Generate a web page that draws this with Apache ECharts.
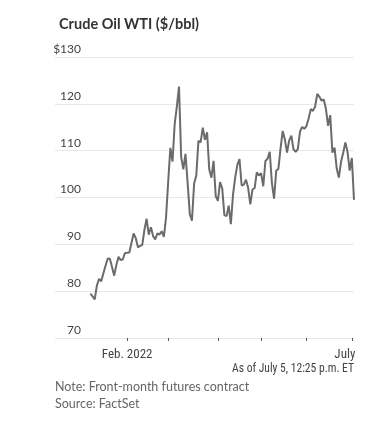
<!DOCTYPE html>
<html>
<head>
<meta charset="utf-8">
<script src="https://cdn.jsdelivr.net/npm/echarts@6/dist/echarts.min.js"></script>
<style>html,body{margin:0;padding:0;background:#fff}#c{width:384px;height:428px}</style>
</head>
<body>
<div id="c"></div>
<script>
// Trading days (Jan 6 - Jul 5, 2022) and WTI front-month prices
var dates = [
 '2022-01-06','2022-01-07','2022-01-10','2022-01-11','2022-01-12','2022-01-13','2022-01-14','2022-01-18','2022-01-19','2022-01-20','2022-01-21','2022-01-24','2022-01-25','2022-01-26','2022-01-27','2022-01-28','2022-01-31',
 '2022-02-01','2022-02-02','2022-02-03','2022-02-04','2022-02-07','2022-02-08','2022-02-09','2022-02-10','2022-02-11','2022-02-14','2022-02-15','2022-02-16','2022-02-17','2022-02-18','2022-02-22','2022-02-23','2022-02-24','2022-02-25','2022-02-28',
 '2022-03-01','2022-03-02','2022-03-03','2022-03-04','2022-03-07','2022-03-08','2022-03-09','2022-03-10','2022-03-11','2022-03-14','2022-03-15','2022-03-16','2022-03-17','2022-03-18','2022-03-21','2022-03-22','2022-03-23','2022-03-24','2022-03-25','2022-03-28','2022-03-29','2022-03-30','2022-03-31',
 '2022-04-01','2022-04-04','2022-04-05','2022-04-06','2022-04-07','2022-04-08','2022-04-11','2022-04-12','2022-04-13','2022-04-14','2022-04-18','2022-04-19','2022-04-20','2022-04-21','2022-04-22','2022-04-25','2022-04-26','2022-04-27','2022-04-28','2022-04-29',
 '2022-05-02','2022-05-03','2022-05-04','2022-05-05','2022-05-06','2022-05-09','2022-05-10','2022-05-11','2022-05-12','2022-05-13','2022-05-16','2022-05-17','2022-05-18','2022-05-19','2022-05-20','2022-05-23','2022-05-24','2022-05-25','2022-05-26','2022-05-27','2022-05-31',
 '2022-06-01','2022-06-02','2022-06-03','2022-06-06','2022-06-07','2022-06-08','2022-06-09','2022-06-10','2022-06-13','2022-06-14','2022-06-15','2022-06-16','2022-06-17','2022-06-21','2022-06-22','2022-06-23','2022-06-24','2022-06-27','2022-06-28','2022-06-29','2022-06-30',
 '2022-07-01','2022-07-05'
];
var prices = [
 79.46,78.90,78.23,81.22,82.64,82.12,83.82,85.43,86.96,86.90,85.14,83.31,85.60,87.35,86.61,86.82,88.15,
 88.20,88.26,90.27,92.31,91.32,89.36,89.66,89.88,93.10,95.46,92.07,93.66,91.76,91.07,92.35,92.10,92.81,91.59,95.72,
 103.41,110.60,107.67,115.68,119.40,123.70,108.70,106.02,109.33,103.01,96.44,95.04,102.98,104.70,112.12,111.76,114.93,112.34,113.90,105.96,104.24,107.82,100.28,
 99.27,103.28,101.96,96.23,96.03,98.26,94.29,100.60,104.25,106.95,108.21,102.56,102.75,103.79,102.07,98.54,101.70,102.02,105.36,104.69,
 105.17,102.41,107.81,108.26,109.77,103.09,99.76,105.71,106.13,110.49,114.20,112.40,109.59,112.21,113.23,110.29,109.77,110.33,114.09,115.07,114.67,
 115.26,116.87,118.87,118.50,119.41,122.11,121.51,120.67,120.93,118.93,115.31,117.59,109.56,110.65,106.19,104.27,107.62,109.57,111.76,109.78,105.76,
 108.43,99.50
];
var yTicks = [70, 80, 90, 100, 110, 120, 130];
var xLabelMonths = {'2022-02': 'Feb. 2022', '2022-07': 'July'};

var monthStarts = [];
for (var i = 0; i < dates.length; i++) {
  if (i > 0 && dates[i].slice(0, 7) !== dates[i - 1].slice(0, 7)) monthStarts.push(i);
}
var labelIdx = monthStarts.filter(function (i) { return xLabelMonths[dates[i].slice(0, 7)]; });
var seriesData = prices.map(function (v, i) { return [i, v]; });

var narrow = '"Roboto Condensed",sans-serif';
var chart = echarts.init(document.getElementById('c'), null, {renderer: 'canvas'});
chart.setOption({
  animation: false,
  title: {
    text: 'Crude Oil WTI ($/bbl)', left: 54, top: 12,
    textStyle: {fontFamily: 'Lato', fontWeight: 'bold', fontSize: 14.5, color: '#333'}
  },
  grid: {left: 55, right: 30, top: 57, bottom: 90, containLabel: false},
  xAxis: {
    type: 'value', min: -16.4, max: dates.length - 1,
    axisLine: {show: false},
    splitLine: {show: false},
    axisTick: {show: true, customValues: monthStarts, length: 3, lineStyle: {color: '#555', width: 1}},
    axisLabel: {
      customValues: labelIdx, margin: 10,
      fontFamily: narrow, fontSize: 13, color: '#444',
      formatter: function (v) {
        var m = xLabelMonths[dates[Math.round(v)].slice(0, 7)];
        return m === 'July' ? '{r|' + m + '}' : m;
      },
      rich: {r: {fontFamily: narrow, fontSize: 13, color: '#444', padding: [0, 14, 0, 0]}}
    }
  },
  yAxis: {
    type: 'value', min: yTicks[0], max: yTicks[yTicks.length - 1], interval: 10,
    axisLine: {show: false}, axisTick: {show: false},
    splitLine: {lineStyle: {color: '#e8e8e8', width: 1}},
    axisLabel: {
      inside: true, margin: 26, align: 'right', verticalAlign: 'bottom',
      fontFamily: 'Lato', fontSize: 12, color: '#444', padding: [0, 0, 2, 0],
      formatter: function (v) { return v === 130 ? '$' + v : '' + v; }
    }
  },
  graphic: [
    {type: 'text', x: 354, y: 369, scaleX: 0.89,
     style: {text: 'As of July 5, 12:25 p.m. ET', font: '13px ' + narrow, fill: '#444', textAlign: 'right', textVerticalAlign: 'middle'}},
    {type: 'text', left: 55, top: 380, style: {text: 'Note: Front-month futures contract', font: '12.5px Lato', fill: '#666'}},
    {type: 'text', left: 55, top: 397, style: {text: 'Source: FactSet', font: '12.5px Lato', fill: '#666'}}
  ],
  series: [{
    type: 'line', data: seriesData, showSymbol: false, symbol: 'none',
    lineStyle: {color: '#6b6b6b', width: 2}, itemStyle: {color: '#6b6b6b'}
  }]
});
</script>
</body>
</html>
